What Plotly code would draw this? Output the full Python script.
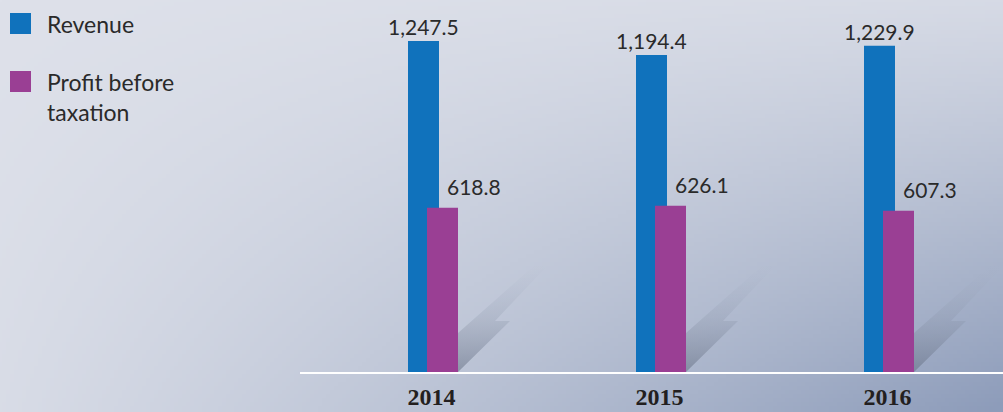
import base64
import struct
import zlib

import numpy as np
import plotly.graph_objects as go

# ---------------- data ----------------
years = ["2014", "2015", "2016"]
revenue = [1247.5, 1194.4, 1229.9]
profit = [618.8, 626.1, 607.3]
revenue_labels = ["1,247.5", "1,194.4", "1,229.9"]
profit_labels = ["618.8", "626.1", "607.3"]

# ---------------- geometry / style ----------------
W, H = 1003, 412
ML, MB = 300, 40
PW, PH = W - ML, H - MB          # plot area 703 x 372
UX = 228.0                       # px per category
FIRST = 131.5                    # px of first category centre inside plot
YMAX = 1402.0                    # value at top of plot area
PY = PH / YMAX                   # px per value unit

BAR_W = 31 / UX
BLUE_OFF = -23.5 / UX
PURP_OFF = -4.5 / UX

BLUE = "#1072bc"
PURPLE = "#9a3f94"
TXT = "#2a2a2a"
FONT = "Lato"

xs = list(range(len(years)))


# ---------------- background gradient image ----------------
def make_png(arr):
    h, w, _ = arr.shape
    raw = b"".join(b"\x00" + arr[r].tobytes() for r in range(h))

    def chunk(tag, data):
        c = struct.pack(">I", len(data)) + tag + data
        return c + struct.pack(">I", zlib.crc32(tag + data) & 0xFFFFFFFF)

    return (b"\x89PNG\r\n\x1a\n"
            + chunk(b"IHDR", struct.pack(">IIBBBBB", w, h, 8, 2, 0, 0, 0))
            + chunk(b"IDAT", zlib.compress(raw, 9))
            + chunk(b"IEND", b""))


gw, gh = 251, 103
gx = np.linspace(0, 1, gw)[None, :]
gy = np.linspace(0, 1, gh)[:, None]
t = 0.10 * gy + 0.13 * gx + 0.77 * gx * gy
t = np.clip(t, 0, 1) ** 1.15
light = np.array([222, 225, 234], dtype=float)
dark = np.array([141, 156, 186], dtype=float)
img = (light[None, None, :] * (1 - t[..., None]) + dark[None, None, :] * t[..., None])
img = np.clip(img, 0, 255).astype(np.uint8)
bg_uri = "data:image/png;base64," + base64.b64encode(make_png(img)).decode()

fig = go.Figure()

# ---------------- decorative shadows (relative to purple bar bottom-right) ----------------
shadow_px = [(0, 0), (52, 51), (37, 51), (88, 105), (78, 108), (0, 39), (0, 0)]
for i in xs:
    x0 = i + PURP_OFF + BAR_W
    fig.add_trace(go.Scatter(
        x=[x0 + dx / UX for dx, dy in shadow_px],
        y=[dy / PY for dx, dy in shadow_px],
        mode="lines", line=dict(width=0), fill="toself",
        fillgradient=dict(type="vertical",
                          colorscale=[[0, "rgba(100,110,130,0.55)"],
                                      [0.5, "rgba(130,140,160,0.22)"],
                                      [1, "rgba(160,170,190,0)"]]),
        hoverinfo="skip", showlegend=False))

# ---------------- bars ----------------
fig.add_trace(go.Bar(x=xs, y=revenue, width=BAR_W, offset=BLUE_OFF,
                     marker=dict(color=BLUE, line=dict(width=0)),
                     name="Revenue", showlegend=False, hoverinfo="skip"))
fig.add_trace(go.Bar(x=xs, y=profit, width=BAR_W, offset=PURP_OFF,
                     marker=dict(color=PURPLE, line=dict(width=0)),
                     name="Profit before taxation", showlegend=False, hoverinfo="skip"))

annotations = []
for i in xs:
    annotations.append(dict(x=i + BLUE_OFF + BAR_W / 2, y=revenue[i], xref="x", yref="y",
                            text=revenue_labels[i], showarrow=False,
                            xanchor="center", yanchor="bottom", yshift=0,
                            font=dict(family=FONT, size=21, color=TXT)))
    annotations.append(dict(x=i + PURP_OFF + BAR_W / 2, y=profit[i], xref="x", yref="y",
                            text=profit_labels[i], showarrow=False,
                            xanchor="left", yanchor="bottom", xshift=2, yshift=7,
                            font=dict(family=FONT, size=21, color=TXT)))


# ---------------- legend (manual) ----------------
def px_x(p):
    return (p - ML) / PW


def px_y(p):
    return 1 - p / PH


shapes = [
    dict(type="rect", xref="paper", yref="paper", x0=px_x(10), x1=px_x(31),
         y0=px_y(34), y1=px_y(13), fillcolor=BLUE, line=dict(width=0), layer="above"),
    dict(type="rect", xref="paper", yref="paper", x0=px_x(10), x1=px_x(31),
         y0=px_y(92), y1=px_y(71), fillcolor=PURPLE, line=dict(width=0), layer="above"),
]
annotations.append(dict(xref="paper", yref="paper", x=px_x(45), y=px_y(24),
                        text="Revenue", showarrow=False, xanchor="left", yanchor="middle",
                        align="left", font=dict(family=FONT, size=23, color=TXT)))
annotations.append(dict(xref="paper", yref="paper", x=px_x(45), y=px_y(97),
                        text="Profit before<br>taxation", showarrow=False, xanchor="left",
                        yanchor="middle", align="left",
                        font=dict(family=FONT, size=23, color=TXT)))

fig.update_layout(
    width=W, height=H,
    margin=dict(l=ML, r=0, t=0, b=MB, pad=0, autoexpand=False),
    barmode="overlay",
    paper_bgcolor="#c8cedb",
    plot_bgcolor="rgba(0,0,0,0)",
    showlegend=False,
    annotations=annotations,
    shapes=shapes,
    images=[dict(source=bg_uri, xref="paper", yref="paper",
                 x=-ML / PW, y=1, sizex=W / PW, sizey=H / PH,
                 xanchor="left", yanchor="top", sizing="stretch", layer="below")],
    xaxis=dict(range=[-FIRST / UX, (PW - FIRST) / UX], tickvals=xs, ticktext=years,
               showgrid=False, zeroline=False, showline=True, linecolor="white",
               linewidth=2, ticks="", ticklabelstandoff=2, automargin=False,
               tickfont=dict(family="Liberation Serif", size=24, color="#231f20",
                             weight="bold"),
               fixedrange=True),
    yaxis=dict(range=[0, YMAX], visible=False, showgrid=False, zeroline=False,
               automargin=False, fixedrange=True),
)

fig.write_html("out.html", config={"displayModeBar": False},
               post_script="document.body.style.margin='0px';"
                           "document.body.style.overflow='hidden';")
